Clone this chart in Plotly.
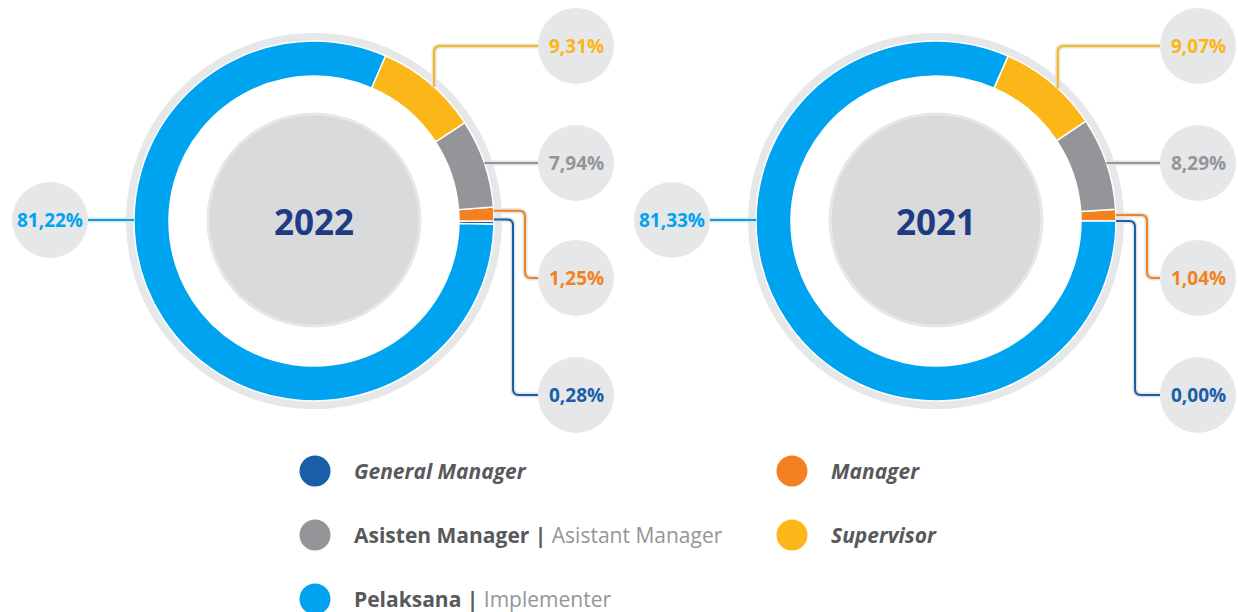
import math
import plotly.graph_objects as go

W, H = 1238, 612

# ---------------- data ----------------
categories = ["General Manager", "Manager", "Asisten Manager", "Supervisor", "Pelaksana"]
english = ["", "", "Asistant Manager", "", "Implementer"]
values_2022 = [0.28, 1.25, 7.94, 9.31, 81.22]
values_2021 = [0.00, 1.04, 8.29, 9.07, 81.33]
years = ["2022", "2021"]
series = [values_2022, values_2021]

# ---------------- styles / layout ----------------
colors = ["#1b5ea8", "#f48120", "#939598", "#fbb617", "#00a3ef"]
centers_x = [314, 936]
center_y = 221
R_OUT = 180          # donut outer radius (px)
R_IN = 145           # donut inner radius
R_RING = 188         # light grey outer ring
R_CORE = 106         # grey inner disc
R_CALL = 38          # callout bubble radius
# callout slot offsets (dx, dy) per category, and routing style
slot_dx = [262, 262, 262, 262, -264]
slot_dy = [174, 57, -58, -175, -1]
route = ["elbow", "elbow", "horizontal", "vertical", "horizontal_left"]
elbow_dx = [199, 211, 0, 0, 0]
anchor_frac = [0.5, 0.5, 0.5, 0.42, 0.5]   # where along a slice its leader line starts

RING_GREY = "#e6e7e8"
CORE_GREY = "#d9dadc"
YEAR_COLOR = "#1f3b84"
LEG_DARK = "#58595b"
LEG_LIGHT = "#939598"


def fmt(v):
    return f"{v:.2f}".replace(".", ",") + "%"


def rounded_path(pts, r=6):
    d = f"M {pts[0][0]},{pts[0][1]}"
    for i in range(1, len(pts) - 1):
        px, py = pts[i - 1]
        cx, cy = pts[i]
        nx, ny = pts[i + 1]
        l1 = math.hypot(cx - px, cy - py) or 1
        l2 = math.hypot(nx - cx, ny - cy) or 1
        rr = min(r, l1 / 2, l2 / 2)
        ax, ay = cx - (cx - px) / l1 * rr, cy - (cy - py) / l1 * rr
        bx, by = cx + (nx - cx) / l2 * rr, cy + (ny - cy) / l2 * rr
        d += f" L {ax},{ay} Q {cx},{cy} {bx},{by}"
    d += f" L {pts[-1][0]},{pts[-1][1]}"
    return d


fig = go.Figure()
shapes = []
annotations = []


def circle(cx, cy, r, fill, line_color=None, line_width=0, layer="below"):
    return dict(type="circle", xref="x", yref="y", x0=cx - r, x1=cx + r, y0=cy - r, y1=cy + r,
                fillcolor=fill, line=dict(color=line_color or fill, width=line_width), layer=layer)


for k, (vals, year) in enumerate(zip(series, years)):
    cx, cy = centers_x[k], center_y
    # background rings
    shapes.append(circle(cx, cy, R_RING, RING_GREY))
    shapes.append(circle(cx, cy, R_IN + 1, "white"))
    shapes.append(circle(cx, cy - 1, R_CORE, CORE_GREY, "#e6e7e8", 3))

    fig.add_trace(go.Pie(
        values=vals, labels=categories, sort=False, direction="counterclockwise",
        rotation=90, hole=R_IN / R_OUT, textinfo="none", hoverinfo="label+value",
        marker=dict(colors=colors, line=dict(color="white", width=1.5)),
        showlegend=False,
        domain=dict(x=[(cx - R_OUT) / W, (cx + R_OUT) / W],
                    y=[1 - (cy + R_OUT) / H, 1 - (cy - R_OUT) / H]),
    ))

    annotations.append(dict(x=cx, y=cy, xref="x", yref="y", text=f"<b>{year}</b>", showarrow=False,
                            font=dict(family="Open Sans", size=35, color=YEAR_COLOR)))

    total = sum(vals)
    cum = 0.0
    for i, v in enumerate(vals):
        mid = (cum + v * anchor_frac[i]) / total * 2 * math.pi
        cum += v
        bx, by = cx + slot_dx[i], cy + slot_dy[i]
        sx, sy = cx + R_OUT * math.cos(mid), cy - R_OUT * math.sin(mid)
        if route[i] == "vertical":
            pts = [(sx, sy), (sx, by), (bx - R_CALL, by)]
        elif route[i] == "horizontal":
            ex = cx + math.sqrt(max(R_OUT ** 2 - slot_dy[i] ** 2, 0))
            pts = [(ex, by), (bx - R_CALL, by)]
        elif route[i] == "horizontal_left":
            ex = cx - math.sqrt(max(R_OUT ** 2 - slot_dy[i] ** 2, 0))
            pts = [(bx + R_CALL, by), (ex, by)]
        else:
            ex = cx + elbow_dx[i]
            pts = [(sx, sy), (ex, sy), (ex, by), (bx - R_CALL, by)]
        path = rounded_path(pts)
        shapes.append(dict(type="path", xref="x", yref="y", path=path,
                           line=dict(color="#e2e3e4", width=5), layer="above"))
        shapes.append(dict(type="path", xref="x", yref="y", path=path,
                           line=dict(color=colors[i], width=2), layer="above"))
        shapes.append(circle(bx, by, R_CALL, RING_GREY, layer="above"))
        annotations.append(dict(x=bx, y=by, xref="x", yref="y", text=f"<b>{fmt(v)}</b>", showarrow=False,
                                font=dict(family="Open Sans", size=19, color=colors[i])))

# ---------------- legend ----------------
leg_col_x = [315, 792]
leg_row_y = [471, 535, 599]
leg_text_dx = 37
lx, ly = [], []
for i, cat in enumerate(categories):
    col, row = i % 2, i // 2
    x, y = leg_col_x[col], leg_row_y[row]
    lx.append(x)
    ly.append(y)
    if english[i]:
        txt = (f"<b>{cat} |</b> <span style='color:{LEG_LIGHT}'>{english[i]}</span>")
    else:
        txt = f"<b><i>{cat}</i></b>"
    annotations.append(dict(x=x + leg_text_dx, y=y, xref="x", yref="y", text=txt, showarrow=False,
                            xanchor="left", yanchor="middle",
                            font=dict(family="Open Sans", size=21, color=LEG_DARK)))

fig.add_trace(go.Scatter(x=lx, y=ly, mode="markers", showlegend=False, hoverinfo="skip",
                         marker=dict(size=31, color=colors, line=dict(width=0))))

fig.update_layout(
    width=W, height=H, margin=dict(l=0, r=0, t=0, b=0),
    paper_bgcolor="white", plot_bgcolor="white",
    xaxis=dict(range=[0, W], visible=False, fixedrange=True),
    yaxis=dict(range=[H, 0], visible=False, fixedrange=True),
    shapes=shapes, annotations=annotations,
)

fig.write_html("out.html", config={"displayModeBar": False},
               post_script="document.body.style.margin='0px';document.body.style.overflow='hidden';")
